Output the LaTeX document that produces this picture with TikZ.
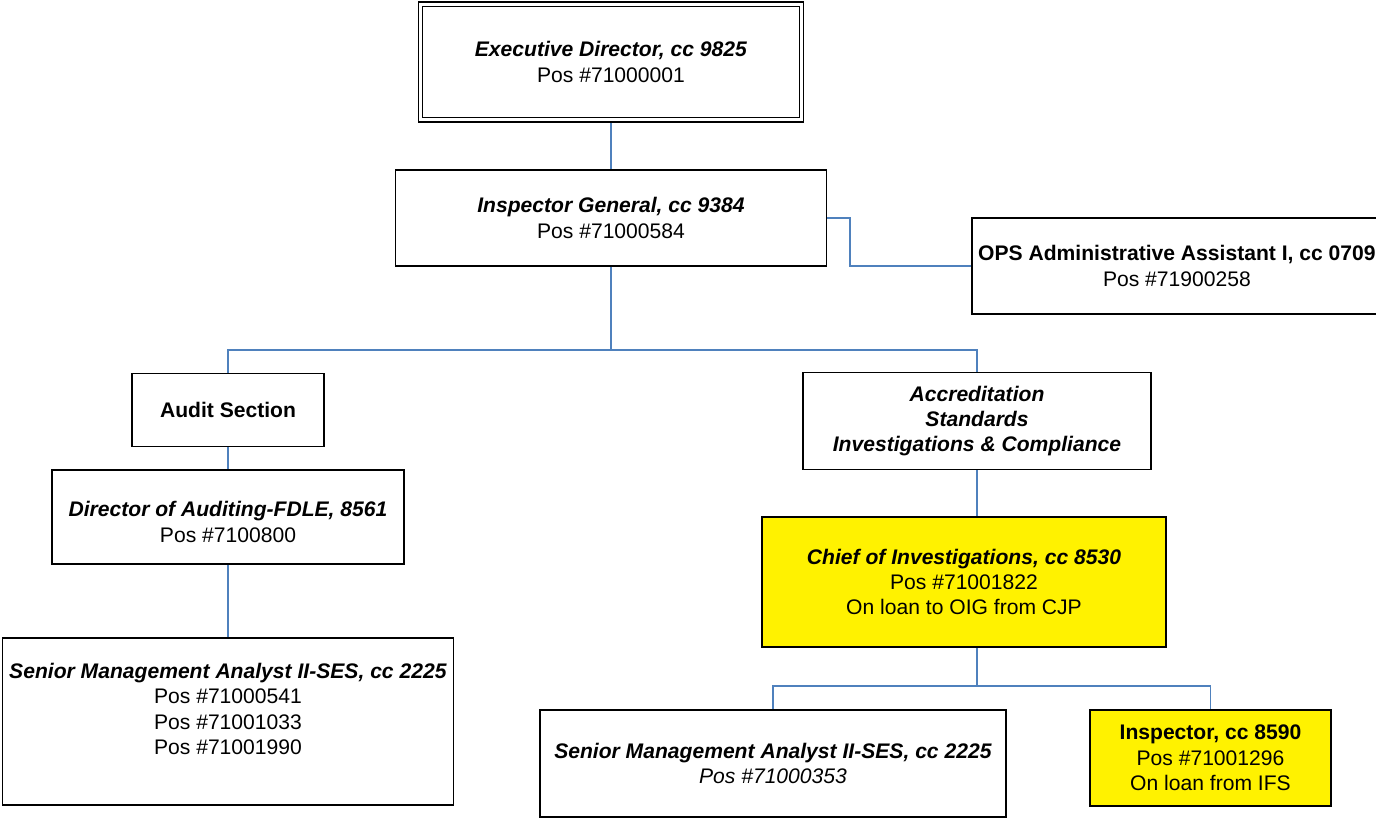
\documentclass[tikz,border=0pt]{standalone}
\usepackage{fontspec}
\setmainfont{Liberation Sans}
\usepackage{xcolor}
\definecolor{linkblue}{HTML}{4F81BD}

\begin{document}
\begin{tikzpicture}[x=0.025cm, y=-0.025cm,
    post/.style 2 args={draw, line width=1.3pt, align=center, inner sep=1pt,
        minimum width=#1*0.025cm, minimum height=#2*0.025cm,
        font=\fontsize{15}{18}\selectfont},
    loan/.style={fill=yellow},
    link/.style={draw=linkblue, line width=1pt}]

    %% OIG organisation chart

    \newcommand{\jobtitle}[1]{\textbf{\textit{#1}}}

    \useasboundingbox (0,0) rectangle (1376,820);

    % Top
    \node[post={385}{120}] (exec) at (611,62)
        {\jobtitle{Executive Director, cc 9825}\\Pos \#71000001};
    \draw[line width=0.6pt] ([shift={(5,5)}]exec.north west) rectangle ([shift={(-5,-5)}]exec.south east);
    \node[post={431}{96}] (ig) at (611,218)
        {\jobtitle{Inspector General, cc 9384}\\Pos \#71000584};
    \node[post={410}{96}, anchor=west] (ops) at (971,266)
        {\textbf{OPS Administrative Assistant I, cc 0709}\\Pos \#71900258};
    \draw[link] (exec) -- (ig);
    \coordinate (igbend) at (850,218);
    \draw[link] (ig.east) -- (igbend) |- (ops.west);

    % Sections
    \coordinate (bus) at (611,350);
    \node[post={192}{73}] (audit) at (228,410) {\textbf{Audit Section}};
    \node[post={348}{97}] (accred) at (977,421)
        {\jobtitle{Accreditation}\\\jobtitle{Standards}\\\jobtitle{Investigations \& Compliance}};
    \draw[link] (ig) -- (bus);
    \draw[link] (audit) |- (bus) -| (accred);

    % Audit branch
    \node[post={352}{94}] (director) at (228,517)
        {\mbox{}\\\jobtitle{Director of Auditing-FDLE, 8561}\\Pos \#7100800};
    \node[post={451}{167}] (sma1) at (228,721.5)
        {\jobtitle{Senior Management Analyst II-SES, cc 2225}\\Pos \#71000541\\Pos \#71001033\\Pos \#71001990\\\mbox{}};
    \draw[link] (audit) -- (director);
    \draw[link] (director) -- (sma1);

    % Investigations branch
    \node[post={404}{130}, loan] (chief) at (964,582)
        {\jobtitle{Chief of Investigations, cc 8530}\\Pos \#71001822\\On loan to OIG from CJP};
    \draw[link] (accred) -- (accred |- chief.north);
    \coordinate (bus2) at (977,686);
    \draw[link] (chief.south -| accred) -- (bus2);
    \node[post={466}{107}] (sma2) at (773,763.5)
        {\jobtitle{Senior Management Analyst II-SES, cc 2225}\\\textit{Pos \#71000353}};
    \node[post={241}{96}, loan] (insp) at (1210.5,758)
        {\textbf{Inspector, cc 8590}\\Pos \#71001296\\On loan from IFS};
    \draw[link] (sma2) |- (bus2) -| (insp);

\end{tikzpicture}
\end{document}
